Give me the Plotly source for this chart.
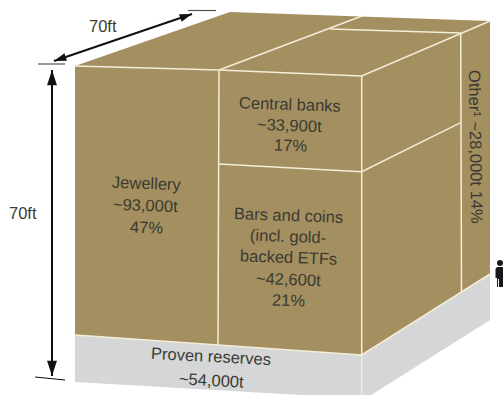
import math
import plotly.graph_objects as go

# Above-ground gold stocks, tonnes and share of total
categories = ["Jewellery", "Central banks", "Bars and coins", "Other", "Proven reserves"]
tonnes = ["~93,000t", "~33,900t", "~42,600t", "~28,000t", "~54,000t"]
shares = ["47%", "17%", "21%", "14%", ""]
side_length = "70ft"

GOLD = "#A38F60"
GREY = "#D4D6D8"
SEAM = "#F4EDD8"
INK = "#3B3A32"
FONT = "Liberation Sans"

# Cube outline in page units
gold_faces = [
    [(75, 66), (230, 12), (490, 21), (490, 274), (361.7, 355), (218, 345), (75, 335)],
]
grey_faces = [
    [(75, 335), (218, 345), (361.7, 355), (361.7, 398.5), (75, 382)],
    [(361.7, 355), (490, 274), (490, 320), (361.7, 401)],
]
seams = [
    [(75, 66), (219, 70), (361.7, 76), (460.7, 33), (490, 21)],
    [(219, 70), (362, 16)],
    [(330, 29), (460.7, 33)],
    [(219, 70), (218, 345)],
    [(361.7, 76), (361.7, 355)],
    [(460.7, 33), (461.5, 291.7)],
    [(219, 164), (361.7, 171.7), (460.7, 122.7)],
    [(75, 335), (218, 345), (361.7, 355), (490, 274)],
    [(361.7, 355), (361.7, 399)],
]
caps = [
    ([(38, 64), (65, 64)], "#555555"),
    ([(188, 10.5), (216, 10.5)], "#555555"),
    ([(35, 377), (65, 380)], "#111111"),
]
figure_outline = [
    (497, 267), (503, 267), (503, 287), (499, 287), (499, 279), (498, 279),
    (498, 287), (497, 287), (497, 278), (495.5, 278), (495.5, 269),
]

fig = go.Figure()


def poly(points, fill):
    xs, ys = zip(*points)
    fig.add_trace(go.Scatter(x=list(xs), y=list(ys), mode="lines", fill="toself",
                             fillcolor=fill, line=dict(width=0), hoverinfo="skip"))


def stroke(points, color, width):
    xs, ys = zip(*points)
    fig.add_trace(go.Scatter(x=list(xs), y=list(ys), mode="lines",
                             line=dict(color=color, width=width), hoverinfo="skip"))


for face in grey_faces:
    poly(face, GREY)
for face in gold_faces:
    poly(face, GOLD)
for seam in seams:
    stroke(seam, SEAM, 1.5)
for cap, color in caps:
    stroke(cap, color, 1.2)

# Person for scale
poly(figure_outline, "#15181c")
fig.add_trace(go.Scatter(x=[500], y=[263], mode="markers", hoverinfo="skip",
                         marker=dict(color="#15181c", size=6)))


def label(x, y, text, angle=0, size=16.5):
    fig.add_annotation(x=x, y=y, text=text, showarrow=False, textangle=angle,
                       font=dict(family=FONT, size=size, color=INK),
                       xanchor="center", yanchor="middle")


def arrow(x0, y0, x1, y1, head):
    # Double-headed dimension arrow: a shaft with a head marker at each end
    stroke([(x0, y0), (x1, y1)], "#111111", 2)
    bearing = math.degrees(math.atan2(x1 - x0, -(y1 - y0)))
    fig.add_trace(go.Scatter(
        x=[x0, x1], y=[y0, y1], mode="markers", hoverinfo="skip",
        marker=dict(symbol="arrow", size=head, color="#111111", angle=[bearing + 180, bearing]),
    ))


label(147, 183, categories[0], 2)
label(145, 205, tonnes[0], 2)
label(146, 227, shares[0], 2)

label(290, 104, categories[1], 2)
label(289, 125, tonnes[1], 2)
label(290, 145, shares[1], 2)

label(288, 215, categories[2], 2)
label(288, 236, "(incl. gold-", 2)
label(288, 257, "backed ETFs", 2)
label(288, 279, tonnes[2], 2)
label(288, 300, shares[2], 2)

label(476, 147, f"{categories[3]}¹ {tonnes[3]} {shares[3]}", 89)

label(211, 356, categories[4], 3)
label(211, 380, tonnes[4], 3)

label(103, 26, side_length)
label(23, 213, side_length)

arrow(52, 70, 52, 376, 16)
arrow(54, 61, 192, 14, 13)

fig.update_layout(
    width=503, height=395, margin=dict(l=0, r=0, t=0, b=0), autosize=False,
    showlegend=False, paper_bgcolor="white", plot_bgcolor="white",
    xaxis=dict(range=[0, 503], visible=False, fixedrange=True),
    yaxis=dict(range=[395, 0], visible=False, fixedrange=True),
)
fig.write_html("out.html", config=dict(displayModeBar=False))
